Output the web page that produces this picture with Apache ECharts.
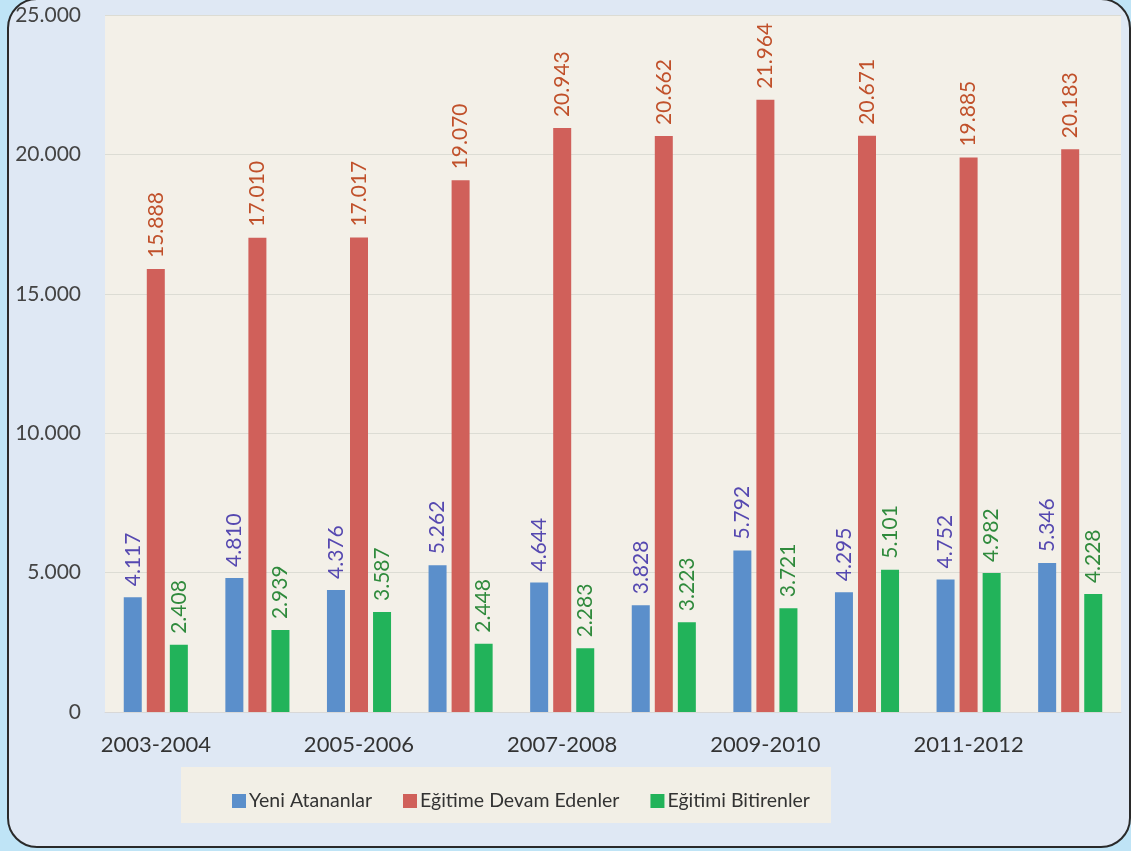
<!DOCTYPE html>
<html>
<head>
<meta charset="utf-8">
<script src="https://cdn.jsdelivr.net/npm/echarts@6/dist/echarts.min.js"></script>
<style>
html,body{margin:0;padding:0;background:#bfe4f6;width:1131px;height:851px;overflow:hidden;}
#frame{position:absolute;left:7px;top:-2px;width:1124px;height:850px;box-sizing:border-box;border:2px solid #2a2a2a;border-radius:30px;background:#dfe8f4;}
#legbox{position:absolute;left:181px;top:767px;width:650px;height:56px;background:#f2efe6;}
#chart{position:absolute;left:0;top:0;width:1131px;height:851px;}
</style>
</head>
<body>
<div id="frame"></div>
<div id="legbox"></div>
<div id="chart"></div>
<script>
const categories = ['2003-2004','2004-2005','2005-2006','2006-2007','2007-2008','2008-2009','2009-2010','2010-2011','2011-2012','2012-2013'];
const yeniAtananlar = [4117, 4810, 4376, 5262, 4644, 3828, 5792, 4295, 4752, 5346];
const egitimeDevam = [15888, 17010, 17017, 19070, 20943, 20662, 21964, 20671, 19885, 20183];
const egitimiBitiren = [2408, 2939, 3587, 2448, 2283, 3223, 3721, 5101, 4982, 4228];
const seriesNames = ['Yeni Atananlar','Eğitime Devam Edenler','Eğitimi Bitirenler'];

function fmt(v){ return String(v).replace(/\B(?=(\d{3})+(?!\d))/g, '.'); }
const font = 'Lato, Open Sans, sans-serif';

function mkLabel(color){
  return {
    show:true, position:'top', rotate:90, align:'left', verticalAlign:'middle',
    distance:11, color:color, fontSize:21, fontFamily:font,
    formatter: p => fmt(p.value)
  };
}

const chart = echarts.init(document.getElementById('chart'));
chart.setOption({
  backgroundColor:'transparent',
  animation:false,
  grid:{left:105, right:10, top:15, bottom:139, show:true, backgroundColor:'#f3f0e8', borderWidth:0},
  legend:{
    top:786, left:227, itemWidth:14, itemHeight:14, itemGap:31,
    icon:'rect',
    textStyle:{fontSize:19.5, color:'#333', fontFamily:font, padding:[0,0,0,-2]},
    data:seriesNames
  },
  xAxis:{
    type:'category', data:categories,
    axisLine:{show:true, lineStyle:{color:'#d8d8d8'}},
    axisTick:{show:false},
    axisLabel:{interval:1, fontSize:22, color:'#333', margin:22, fontFamily:font}
  },
  yAxis:{
    type:'value', min:0, max:25000, interval:5000,
    axisLine:{show:false}, axisTick:{show:false},
    splitLine:{lineStyle:{color:'#dcdcd4'}},
    axisLabel:{fontSize:21, color:'#444', margin:24, fontFamily:font, formatter: v => fmt(v)}
  },
  series:[
    {name:seriesNames[0], type:'bar', data:yeniAtananlar, barWidth:18, barGap:'28%',
     itemStyle:{color:'#5b8fcb'}, label:mkLabel('#5548b0')},
    {name:seriesNames[1], type:'bar', data:egitimeDevam, barWidth:18, barGap:'28%',
     itemStyle:{color:'#d0605a'}, label:mkLabel('#c0502a')},
    {name:seriesNames[2], type:'bar', data:egitimiBitiren, barWidth:18, barGap:'28%',
     itemStyle:{color:'#22b35a'}, label:mkLabel('#2f8a3c')}
  ]
});
</script>
</body>
</html>
